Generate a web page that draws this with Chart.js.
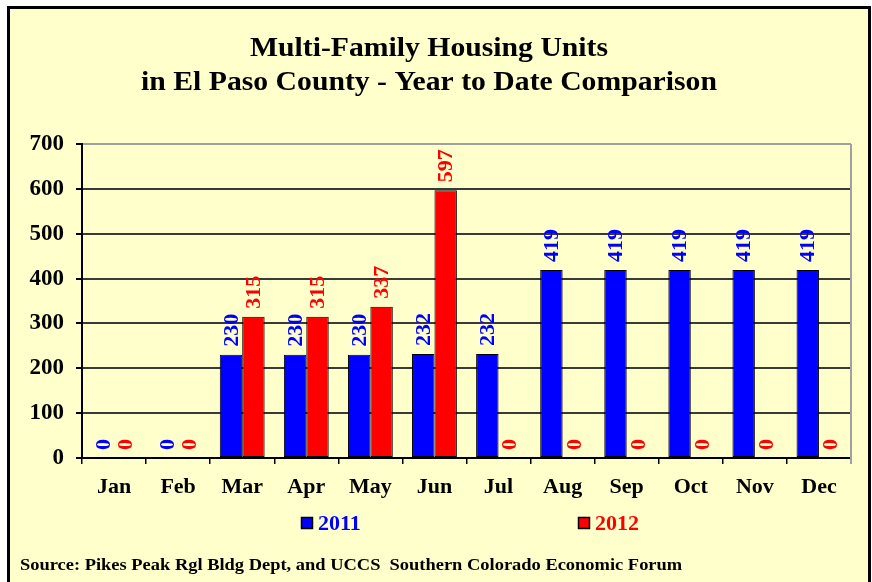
<!DOCTYPE html>
<html>
<head>
<meta charset="utf-8">
<script src="https://cdn.jsdelivr.net/npm/chart.js@4"></script>
<style>
  html, body { margin: 0; padding: 0; background: #ffffff; }
  #wrap { width: 872px; height: 582px; position: relative; }
</style>
</head>
<body>
<div id="wrap"><canvas id="c" width="872" height="582"></canvas></div>
<script>
const months = ['Jan', 'Feb', 'Mar', 'Apr', 'May', 'Jun', 'Jul', 'Aug', 'Sep', 'Oct', 'Nov', 'Dec'];
const units2011 = [0, 0, 230, 230, 230, 232, 232, 419, 419, 419, 419, 419];
const units2012 = [0, 0, 315, 315, 337, 597, 0, 0, 0, 0, 0, 0];
const seriesNames = ['2011', '2012'];
const yTicks = [0, 100, 200, 300, 400, 500, 600, 700];
const titleLines = ['Multi-Family Housing Units', 'in El Paso County - Year to Date Comparison'];
const sourceText = 'Source: Pikes Peak Rgl Bldg Dept, and UCCS  Southern Colorado Economic Forum';

const SERIF = '"Liberation Serif", "Times New Roman", serif';
const BG = '#ffffcc';

function stretchText(c, text, x, y, sx) {
  c.save();
  c.translate(x, y);
  c.scale(sx, 1);
  c.fillText(text, 0, 0);
  c.restore();
}

const decor = {
  id: 'decor',
  beforeDraw(chart) {
    const c = chart.ctx;
    c.save();
    c.fillStyle = '#ffffff';
    c.fillRect(0, 0, chart.width, chart.height);
    c.fillStyle = BG;
    c.fillRect(8, 6, 862, 590);
    c.strokeStyle = '#000';
    c.lineWidth = 3;
    c.beginPath();
    c.moveTo(8.5, 600);
    c.lineTo(8.5, 7.5);
    c.lineTo(869.5, 7.5);
    c.lineTo(869.5, 600);
    c.stroke();
    // title
    c.fillStyle = '#000';
    c.font = 'bold 27px ' + SERIF;
    c.textAlign = 'center';
    c.textBaseline = 'middle';
    stretchText(c, titleLines[0], 429, 49, 1.1);
    stretchText(c, titleLines[1], 429, 83, 1.1);
    // source
    c.font = 'bold 17px ' + SERIF;
    c.textAlign = 'left';
    stretchText(c, sourceText, 20, 566, 1.085);
    c.restore();
  },
  afterDatasetsDraw(chart) {
    const c = chart.ctx;
    const a = chart.chartArea;
    c.save();
    // right gray border
    c.strokeStyle = '#a0a0a0';
    c.lineWidth = 2;
    c.beginPath();
    c.moveTo(a.right, a.top);
    c.lineTo(a.right, a.bottom + 6);
    c.stroke();
    // data labels
    c.font = 'bold 22px ' + SERIF;
    c.textAlign = 'left';
    c.textBaseline = 'middle';
    chart.data.datasets.forEach((ds, di) => {
      const meta = chart.getDatasetMeta(di);
      meta.data.forEach((el, i) => {
        c.save();
        c.translate(el.x, el.y - 8);
        c.rotate(-Math.PI / 2);
        c.fillStyle = ds.labelColor;
        c.fillText(String(ds.data[i]), 0, 1);
        c.restore();
      });
    });
    // legend
    const items = [{ x: 301 }, { x: 578 }];
    chart.data.datasets.forEach((ds, di) => {
      const x = items[di].x, y = 523;
      c.fillStyle = ds.backgroundColor;
      c.fillRect(x, y - 6, 12, 12);
      c.strokeStyle = '#000';
      c.lineWidth = 1.5;
      c.strokeRect(x + 0.5, y - 5.5, 11, 11);
      c.fillStyle = ds.labelColor;
      c.font = 'bold 22px ' + SERIF;
      c.textAlign = 'left';
      c.textBaseline = 'middle';
      c.fillText(ds.label, x + 17, y + 1);
    });
    c.restore();
  }
};

new Chart(document.getElementById('c'), {
  type: 'bar',
  data: {
    labels: months,
    datasets: [
      { label: seriesNames[0], data: units2011, backgroundColor: '#0000ff', labelColor: '#0000ff',
        borderColor: '#000', borderWidth: 1, borderSkipped: false },
      { label: seriesNames[1], data: units2012, backgroundColor: '#ff0000', labelColor: '#ff0000',
        borderColor: '#000', borderWidth: 1, borderSkipped: false }
    ]
  },
  options: {
    responsive: false,
    animation: false,
    devicePixelRatio: 1,
    layout: { padding: { top: 144, right: 21, bottom: 0, left: 0 } },
    plugins: { legend: { display: false }, title: { display: false }, tooltip: { enabled: false } },
    datasets: { bar: { categoryPercentage: 0.7, barPercentage: 1.0 } },
    scales: {
      x: {
        afterFit(s) { s.height = 124; },
        grid: { display: true, drawOnChartArea: false, drawTicks: true, tickLength: 6, offset: true, color: '#000', lineWidth: 1.5 },
        border: { display: true, color: '#000', width: 2 },
        ticks: { color: '#000', font: { family: SERIF, size: 22, weight: 'bold' }, padding: 10 }
      },
      y: {
        min: 0, max: 700,
        afterFit(s) { s.width = 82; },
        afterBuildTicks(s) { s.ticks = yTicks.map(v => ({ value: v })); },
        grid: {
          color: (ctx) => (ctx.tick && ctx.tick.value === 700 ? '#a0a0a0' : '#3a3a3a'),
          lineWidth: 2,
          tickColor: '#000',
          tickLength: 6,
          drawTicks: true
        },
        border: { display: true, color: '#000', width: 2 },
        ticks: { color: '#000', font: { family: SERIF, size: 23, weight: 'bold' }, padding: 12 }
      }
    }
  },
  plugins: [decor]
});
</script>
</body>
</html>
